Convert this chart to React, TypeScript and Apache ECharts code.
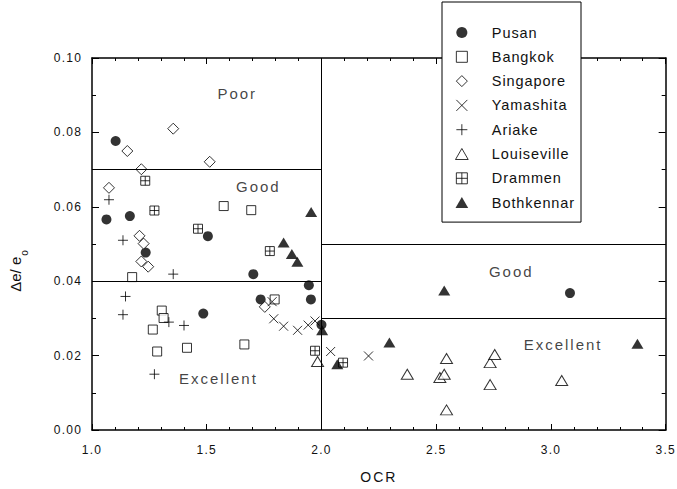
import React, { useEffect, useRef } from 'react';
import * as echarts from 'echarts';

// ---- data (OCR, Δe/e0) ----
const seriesNames = ['Pusan', 'Bangkok', 'Singapore', 'Yamashita', 'Ariake', 'Louiseville', 'Drammen', 'Bothkennar'];

const pusan = [
  [1.103, 0.0777], [1.063, 0.0566], [1.165, 0.0575], [1.234, 0.0477], [1.505, 0.0521], [1.703, 0.0419],
  [1.735, 0.0351], [1.485, 0.0313], [1.945, 0.0389], [1.954, 0.0351], [2.0, 0.0283], [3.083, 0.0368],
];
const bangkok = [
  [1.175, 0.0411], [1.304, 0.0321], [1.312, 0.0301], [1.265, 0.027], [1.284, 0.0211], [1.414, 0.0221],
  [1.574, 0.0602], [1.694, 0.0591], [1.796, 0.0351], [1.664, 0.023],
];
const singapore = [
  [1.074, 0.0651], [1.154, 0.075], [1.215, 0.0701], [1.354, 0.081], [1.207, 0.0522], [1.225, 0.0501],
  [1.215, 0.0453], [1.245, 0.0439], [1.513, 0.0721], [1.753, 0.0331],
];
const yamashita = [
  [1.785, 0.0345], [1.792, 0.0299], [1.835, 0.0279], [1.896, 0.0268], [1.942, 0.0282], [1.972, 0.0293],
  [2.04, 0.0211], [2.205, 0.0199],
];
const ariake = [
  [1.074, 0.0619], [1.135, 0.051], [1.146, 0.0359], [1.135, 0.031], [1.354, 0.0419], [1.335, 0.029],
  [1.401, 0.0281], [1.272, 0.015],
];
const louiseville = [
  [1.983, 0.0184], [2.374, 0.015], [2.545, 0.0192], [2.516, 0.0141], [2.535, 0.015], [2.545, 0.0054],
  [2.735, 0.0181], [2.755, 0.0203], [2.735, 0.0122], [3.047, 0.0133],
];
const drammen = [
  [1.232, 0.067], [1.272, 0.059], [1.462, 0.0541], [1.775, 0.0481], [1.972, 0.0213], [2.094, 0.0181],
];
const bothkennar = [
  [1.955, 0.0586], [1.835, 0.0504], [1.871, 0.0473], [1.895, 0.0452], [2.003, 0.0268], [2.069, 0.0177],
  [2.296, 0.0235], [2.535, 0.0375], [3.377, 0.0232],
];

// region labels and boundaries
const regionLabels = ['Poor', 'Good', 'Excellent', 'Good', 'Excellent'];
const regionLabelPos = [[1.633, 0.0904], [1.725, 0.0655], [1.551, 0.0139], [2.827, 0.0426], [3.053, 0.023]];
const boundaries = [
  [1.0, 0.07, 2.0, 0.07],
  [1.0, 0.04, 2.0, 0.04],
  [2.0, 0.0, 2.0, 0.1],
  [2.0, 0.05, 3.5, 0.05],
  [2.0, 0.03, 3.5, 0.03],
];

// axes
const xMin = 1.0, xMax = 3.5, xStep = 0.5;
const yMin = 0.0, yMax = 0.1, yStep = 0.02;

const SYM = {
  square: 'path://M0,0L10,0L10,10L0,10Z',
  diamond: 'path://M6,0L12,6L6,12L0,6Z',
  cross: 'path://M0,0L10,10M10,0L0,10',
  plus: 'path://M5,0L5,10M0,5L10,5',
  triangle: 'path://M6,0L12,10.4L0,10.4Z',
  boxplus: 'path://M0,0L10,0L10,10L0,10ZM5,0L5,10M0,5L10,5',
};

const FA = 'Liberation Sans, lsA';
const FB = 'Liberation Sans, lsB';
const FC = 'Liberation Sans, lsC';
const INK = '#111';

const open = { color: '#fff', borderColor: '#000', borderWidth: 1 };
const filled = { color: '#000', borderWidth: 0 };

function sc(name: string, data: number[][], symbol: string, size: any, itemStyle: any, z = 3) {
  return {
    type: 'scatter',
    name,
    data,
    symbol,
    symbolSize: size,
    itemStyle,
    z,
    emphasis: { disabled: true },
  };
}

export default function App() {
  const ref = useRef<HTMLDivElement>(null);

  useEffect(() => {
    if (!ref.current) return;
    const chart = echarts.init(ref.current, null, { renderer: 'svg' });

    const axisCommonX = {
      type: 'value',
      min: xMin,
      max: xMax,
      interval: xStep,
      splitLine: { show: false },
      axisLine: { show: true, onZero: false, lineStyle: { color: '#000', width: 1.5 } },
      axisTick: { show: true, inside: true, length: 6, lineStyle: { color: '#000', width: 1 } },
      minorTick: { show: true, splitNumber: 5, length: 3, lineStyle: { color: '#000', width: 1 } },
    };
    const axisCommonY = {
      type: 'value',
      min: yMin,
      max: yMax,
      interval: yStep,
      splitLine: { show: false },
      axisLine: { show: true, onZero: false, lineStyle: { color: '#000', width: 1.5 } },
      axisTick: { show: true, inside: true, length: 7, lineStyle: { color: '#000', width: 1 } },
      minorTick: { show: true, splitNumber: 2, length: 4, lineStyle: { color: '#000', width: 1 } },
    };

    const option: any = {
      animation: false,
      backgroundColor: '#fff',
      grid: { left: 86, right: 10, top: 58, bottom: 56, containLabel: false },
      xAxis: [
        {
          ...axisCommonX,
          position: 'bottom',
          name: 'OCR',
          nameLocation: 'middle',
          nameGap: 40,
          nameTextStyle: { fontFamily: FC, fontSize: 14, color: INK },
          axisLabel: {
            margin: 14,
            fontFamily: FA,
            fontSize: 12,
            color: INK,
            formatter: (v: number) => v.toFixed(1),
          },
        },
        { ...axisCommonX, position: 'top', axisLabel: { show: false } },
      ],
      yAxis: [
        {
          ...axisCommonY,
          position: 'left',
          name: '{a|Δe/ e}{b|o}',
          nameLocation: 'middle',
          nameGap: 52,
          nameTextStyle: {
            padding: [0, 54, 0, 0],
            rich: {
              a: { fontFamily: 'Arial', fontSize: 15, color: INK, lineHeight: 17, verticalAlign: 'top' },
              b: { fontFamily: 'Arial', fontSize: 10, color: INK, lineHeight: 32, verticalAlign: 'middle', padding: [0, 0, 0, 1] },
            },
          },
          axisLabel: {
            margin: 10,
            fontFamily: FA,
            fontSize: 12,
            color: INK,
            formatter: (v: number) => v.toFixed(2),
          },
        },
        { ...axisCommonY, position: 'right', axisLabel: { show: false } },
      ],
      legend: {
        data: seriesNames,
        orient: 'vertical',
        left: 442,
        top: 2,
        padding: [23, 15, 12, 13],
        itemWidth: 46,
        itemHeight: 11,
        itemGap: 9.3,
        backgroundColor: '#fff',
        borderColor: '#000',
        borderWidth: 1,
        selectedMode: false,
        itemStyle: { borderWidth: 1 },
        textStyle: { fontFamily: FB, fontSize: 14.5, color: INK, padding: [0, 0, 0, 2] },
      },
      series: [
        {
          type: 'scatter',
          name: 'regions',
          data: regionLabels.map((t, i) => ({ name: t, value: regionLabelPos[i] })),
          symbolSize: 0,
          silent: true,
          z: 2,
          label: {
            show: true,
            position: 'inside',
            formatter: '{b}',
            fontFamily: FC,
            fontSize: 15,
            color: INK,
          },
          markLine: {
            silent: true,
            symbol: 'none',
            label: { show: false },
            lineStyle: { color: '#000', width: 1, type: 'solid' },
            data: boundaries.map((b) => [{ coord: [b[0], b[1]] }, { coord: [b[2], b[3]] }]),
          },
        },
        sc('Pusan', pusan, 'circle', 10, filled),
        sc('Bangkok', bangkok, SYM.square, 9, open),
        sc('Singapore', singapore, SYM.diamond, [11, 11], open),
        sc('Yamashita', yamashita, SYM.cross, 9, open),
        sc('Ariake', ariake, SYM.plus, 10, open),
        sc('Louiseville', louiseville, SYM.triangle, [12, 10], open),
        sc('Drammen', drammen, SYM.boxplus, 9, open),
        sc('Bothkennar', bothkennar, SYM.triangle, [12, 10], filled),
      ],
    };

    chart.setOption(option);
    return () => chart.dispose();
  }, []);

  return (
    <>
      <style>{`
        svg text[style*="lsA"] { letter-spacing: 1.2px; }
        svg text[style*="lsB"] { letter-spacing: 0.9px; }
        svg text[style*="lsC"] { letter-spacing: 2px; }
      `}</style>
      <div
        ref={ref}
        style={{ position: 'absolute', left: 0, top: 0, width: 677, height: 489, background: '#fff' }}
      />
    </>
  );
}
